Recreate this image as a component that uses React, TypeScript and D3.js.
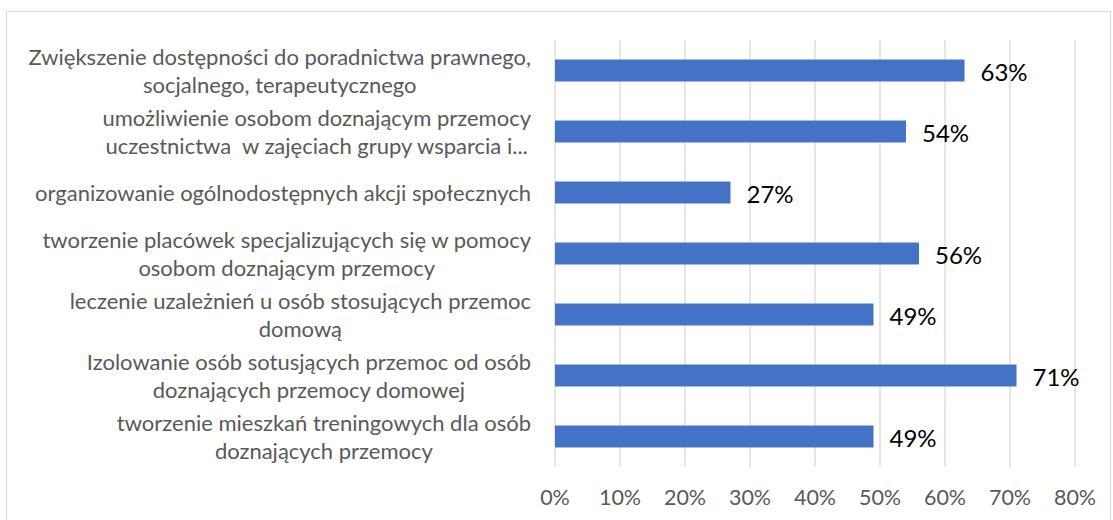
import React, { useEffect, useRef } from "react";
import * as d3 from "d3";

const categoryLines: string[][] = [
  ["Zwiększenie dostępności do poradnictwa prawnego,", "socjalnego, terapeutycznego"],
  ["umożliwienie osobom doznającym przemocy", "uczestnictwa  w zajęciach grupy wsparcia i..."],
  ["organizowanie ogólnodostępnych akcji społecznych"],
  ["tworzenie placówek specjalizujących się w pomocy", "osobom doznającym przemocy"],
  ["leczenie uzależnień u osób stosujących przemoc", "domową"],
  ["Izolowanie osób sotusjących przemoc od osób", "doznających przemocy domowej"],
  ["tworzenie mieszkań treningowych dla osób", "doznających przemocy"],
];
const values: number[] = [63, 54, 27, 56, 49, 71, 49];
const ticks: number[] = [0, 10, 20, 30, 40, 50, 60, 70, 80];

const W = 1113;
const H = 520;
const FONT = "Lato, 'Open Sans', sans-serif";

export default function App() {
  const ref = useRef<SVGSVGElement>(null);
  useEffect(() => {
    const svg = d3.select(ref.current);
    svg.selectAll("*").remove();

    const plot = { left: 555, right: 1075, top: 40, bottom: 467 };
    const x = d3.scaleLinear().domain([0, 80]).range([plot.left, plot.right]);
    const idx = values.map((_, i) => i);
    const y = d3.scaleBand<number>().domain(idx).range([plot.top, plot.bottom]).paddingInner(0.64).paddingOuter(0.32);

    svg.append("rect").attr("x", 0).attr("y", 0).attr("width", W).attr("height", H).attr("fill", "#fff");
    svg.append("rect").attr("x", 6.5).attr("y", 11.5).attr("width", 1104).attr("height", 520).attr("fill", "none").attr("stroke", "#d9d9d9").attr("stroke-width", 1);

    svg.append("g").selectAll("line").data(ticks).join("line")
      .attr("x1", (d) => x(d)).attr("x2", (d) => x(d))
      .attr("y1", plot.top).attr("y2", plot.bottom)
      .attr("stroke", "#d9d9d9").attr("stroke-width", 1.3);

    svg.append("g").selectAll("text").data(ticks).join("text")
      .attr("x", (d) => x(d)).attr("y", 497)
      .attr("text-anchor", "middle").attr("dominant-baseline", "central")
      .attr("font-family", FONT).attr("font-size", 21.5).attr("fill", "#595959")
      .text((d) => `${d}%`);

    svg.append("g").selectAll("rect").data(values).join("rect")
      .attr("x", x(0)).attr("y", (_, i) => y(i)!)
      .attr("width", (d) => x(d) - x(0)).attr("height", y.bandwidth())
      .attr("fill", "#4472c4");

    svg.append("g").selectAll("text").data(values).join("text")
      .attr("x", (d) => x(d) + 16).attr("y", (_, i) => y(i)! + y.bandwidth() / 2 + 1)
      .attr("dominant-baseline", "central")
      .attr("font-family", FONT).attr("font-size", 24).attr("fill", "#000")
      .text((d) => `${d}%`);

    const labelRight = 531;
    const lh = 27.5;
    const lg = svg.append("g");
    categoryLines.forEach((lines, i) => {
      const cy = y(i)! + y.bandwidth() / 2;
      const t = lg.append("text")
        .attr("font-family", FONT).attr("font-size", 22).attr("fill", "#595959")
        .attr("text-anchor", "middle").style("white-space", "pre");
      const spans = lines.map((ln, j) =>
        t.append("tspan").attr("y", cy + (j - (lines.length - 1) / 2) * lh).attr("dominant-baseline", "central").text(ln)
      );
      const maxW = d3.max(spans, (s) => (s.node() as SVGTSpanElement).getComputedTextLength()) || 0;
      spans.forEach((s) => s.attr("x", labelRight - maxW / 2));
    });
  }, []);

  return (
    <svg ref={ref} width={W} height={H} style={{ position: "absolute", left: 0, top: 0, display: "block" }} />
  );
}
